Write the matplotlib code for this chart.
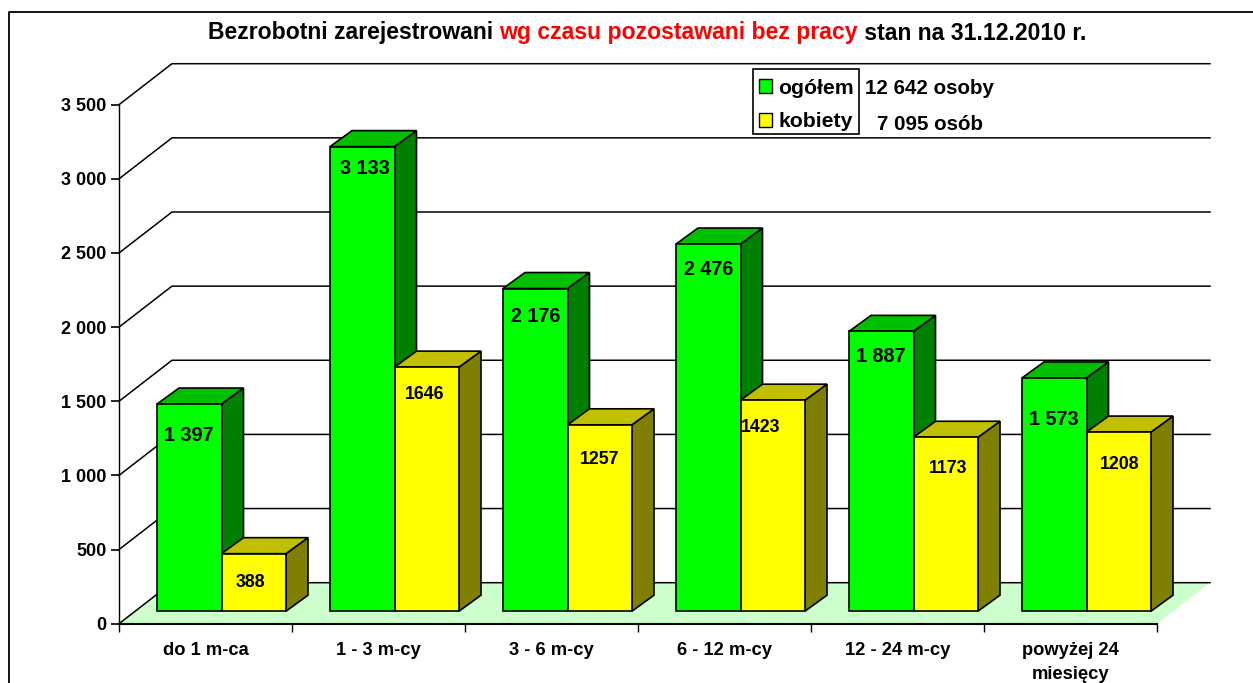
import matplotlib
matplotlib.use("Agg")
import matplotlib.pyplot as plt
from matplotlib.lines import Line2D
from matplotlib.patches import Patch, Polygon, Rectangle

categories = ["do 1 m-ca", "1 - 3 m-cy", "3 - 6 m-cy", "6 - 12 m-cy", "12 - 24 m-cy", "powyżej 24\nmiesięcy"]
ogolem = [1397, 3133, 2176, 2476, 1887, 1573]
kobiety = [388, 1646, 1257, 1423, 1173, 1208]
ogolem_labels = ["1 397", "3 133", "2 176", "2 476", "1 887", "1 573"]
yticks = [0, 500, 1000, 1500, 2000, 2500, 3000, 3500]
ytick_labels = ["0", "500", "1 000", "1 500", "2 000", "2 500", "3 000", "3 500"]

# hand placed labels: drop below the bar top (value units), sideways nudge (categories)
ogolem_drop = [212, 148, 190, 172, 172, 277]
kobiety_drop = [197, 182, 235, 187, 212, 222]
ogolem_nudge = [0, 0.015, 0, 0, 0, 0]
kobiety_nudge = [-0.02, -0.01, 0, -0.07, 0.015, 0.005]

plt.rcParams["font.family"] = ["Liberation Sans", "DejaVu Sans"]
plt.rcParams["font.weight"] = "bold"

W, H = 1253, 683
fig = plt.figure(figsize=(W / 100, H / 100), dpi=100)
fig.patch.set_facecolor("white")

# front plane of the fake 3d box
ax = fig.add_axes([119 / W, 1 - 623.7 / H, (1157 - 119) / W, (623.7 - 104.7) / H])
ax.set_xlim(0, 6)
ax.set_ylim(0, 3500)
ax.patch.set_visible(False)

# depth of the box in data units
unit = 519 / 3500
depth_x = 53 / 173
depth_y = 41 / unit
bar_w = 64.5 / 173
front_x = 16 / 173
front_y = 12.5 / unit
side_x = 22 / 173
side_y = 16 / unit

# floor
ax.add_patch(Polygon([(0, 0), (6, 0), (6 + depth_x, depth_y), (depth_x, depth_y)],
                     fc="#CCFFCC", ec="none", zorder=1, clip_on=False))

# back wall gridlines
for v in yticks:
    ax.plot([0, depth_x, 6 + depth_x], [v, v + depth_y, v + depth_y],
            color="black", lw=1.1, zorder=2, clip_on=False)


def bar3d(x, value, front, top, side):
    x0 = x + front_x
    y0 = front_y
    y1 = value + front_y
    x1 = x0 + bar_w
    ax.add_patch(Polygon([(x1, y0), (x1 + side_x, y0 + side_y), (x1 + side_x, y1 + side_y), (x1, y1)],
                         fc=side, ec="black", lw=1.2, zorder=3, clip_on=False))
    ax.add_patch(Polygon([(x0, y1), (x1, y1), (x1 + side_x, y1 + side_y), (x0 + side_x, y1 + side_y)],
                         fc=top, ec="black", lw=1.2, zorder=3, clip_on=False))
    ax.add_patch(Rectangle((x0, y0), bar_w, value, fc=front, ec="black", lw=1.2, zorder=3, clip_on=False))


for i in range(len(categories)):
    start = i + (1 - 2 * bar_w) / 2
    bar3d(start, ogolem[i], "#00FF00", "#00C000", "#008000")
    bar3d(start + bar_w, kobiety[i], "#FFFF00", "#C0C000", "#808000")
    ax.text(start + front_x + bar_w / 2 + ogolem_nudge[i], ogolem[i] + front_y - ogolem_drop[i], ogolem_labels[i],
            ha="center", va="center", fontsize=14.2, color="black", zorder=5)
    ax.text(start + front_x + bar_w * 1.5 + kobiety_nudge[i], kobiety[i] + front_y - kobiety_drop[i], str(kobiety[i]),
            ha="center", va="center", fontsize=12.8, color="black", zorder=5)

# axes
for name in ["top", "right"]:
    ax.spines[name].set_visible(False)
ax.spines["left"].set_linewidth(1.0)
ax.spines["bottom"].set_linewidth(1.5)
ax.set_yticks(yticks)
ax.set_yticklabels(ytick_labels, fontsize=13)
ax.tick_params(axis="y", length=6, width=1.2, pad=3)
ax.set_xticks(range(7))
ax.set_xticklabels([])
ax.tick_params(axis="x", length=6, width=1.0)
ax.set_xticks([i + 0.5 for i in range(6)], minor=True)
ax.set_xticklabels(categories, minor=True, fontsize=13.2, linespacing=1.55)
ax.tick_params(axis="x", which="minor", length=0, pad=13)

# title in three colours, each piece hung on the previous one
t1 = fig.text(208 / W, 1 - 33 / H, "Bezrobotni zarejestrowani ", fontsize=16.55, va="center", ha="left")
t2 = ax.annotate("wg czasu pozostawani bez pracy", xy=(1, 0), xycoords=t1, fontsize=16.55,
                 color="#FF0000", va="bottom", ha="left", annotation_clip=False)
ax.annotate(" stan na 31.12.2010 r.", xy=(1, 0), xycoords=t2, fontsize=16.55,
            va="bottom", ha="left", annotation_clip=False)

# legend without its own frame, the box is drawn apart to get the padding right
handles = [Patch(fc="#00FF00", ec="black", label="ogółem"), Patch(fc="#FFFF00", ec="black", label="kobiety")]
fig.legend(handles=handles, loc="upper left", bbox_to_anchor=(752 / W, 1 - 71.5 / H), fontsize=15.3,
           frameon=False, borderpad=0.33, handlelength=0.62,
           handleheight=0.62, handletextpad=0.3, labelspacing=0.7, borderaxespad=0)
fig.add_artist(Rectangle((752.5 / W, 1 - 134 / H), 106 / W, 65.5 / H, transform=fig.transFigure,
                         fc="none", ec="black", lw=1.2))
fig.text(865 / W, 1 - 88 / H, "12 642 osoby", fontsize=14.8, va="center", ha="left")
fig.text(877 / W, 1 - 125 / H, "7 095 osób", fontsize=14.8, va="center", ha="left")

# outer frame: only left and top are visible in the picture
fig.add_artist(Line2D([8.5 / W, 8.5 / W, 1], [0, 1 - 11.5 / H, 1 - 11.5 / H], transform=fig.transFigure,
                      color="black", lw=1.3))

fig.savefig("out.png", dpi=100)
